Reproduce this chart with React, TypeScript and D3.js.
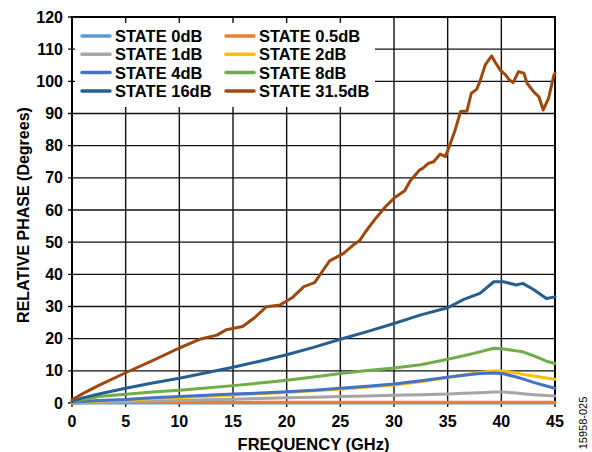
import * as React from 'react';
import * as d3 from 'd3';

// common frequency grid for the smooth states (GHz)
const FREQ = [0, 1, 2.5, 5, 7.5, 10, 12.5, 15, 17.5, 20, 22.5, 25, 27.5, 30, 32.5, 35, 36.5, 38, 39.3, 40.2, 41.4, 42, 43, 44.2, 45];

const STATE_0 = FREQ.map(() => 0);
const STATE_05 = [0, 0.1, 0.15, 0.2, 0.2, 0.2, 0.2, 0.25, 0.25, 0.25, 0.25, 0.25, 0.25, 0.25, 0.25, 0.25, 0.25, 0.25, 0.25, 0.25, 0.25, 0.25, 0.25, 0.2, 0.2];
const STATE_1 = [0, 0.1, 0.2, 0.4, 0.6, 0.8, 1.0, 1.2, 1.4, 1.6, 1.8, 2.0, 2.2, 2.4, 2.6, 2.8, 3.0, 3.2, 3.4, 3.4, 3.1, 2.9, 2.6, 2.3, 2.2];
const STATE_2 = [0.1, 0.3, 0.6, 0.9, 1.3, 1.7, 2.1, 2.5, 2.9, 3.3, 3.8, 4.3, 5.0, 5.6, 6.6, 7.9, 8.7, 9.5, 10.0, 9.9, 9.3, 8.9, 8.4, 7.8, 7.4];
const STATE_4 = [0.2, 0.5, 0.8, 1.1, 1.6, 2.0, 2.4, 2.8, 3.1, 3.5, 4.0, 4.6, 5.2, 5.9, 6.9, 8.0, 8.6, 9.2, 9.3, 9.1, 8.1, 7.5, 6.4, 5.3, 4.6];
const STATE_8 = [0.4, 1.0, 2.0, 2.7, 3.4, 4.0, 4.7, 5.4, 6.2, 7.1, 8.1, 9.2, 10.1, 10.9, 11.9, 13.6, 14.7, 15.9, 17.0, 16.8, 16.2, 15.9, 14.7, 13.0, 12.3];
const STATE_16 = [0.5, 1.6, 2.8, 4.6, 6.2, 7.7, 9.4, 11.1, 13.0, 15.0, 17.3, 19.8, 22.2, 24.7, 27.4, 29.6, 32.2, 34.1, 37.7, 37.7, 36.7, 37.2, 35.3, 32.5, 33.0];

// the 31.5dB state is traced on its own, finer grid
const FREQ_315 = [0, 1, 2.5, 5, 7.5, 10, 12, 13.5, 14.4, 15.9, 17, 18.1, 19.4, 20.5, 21.6, 22.6, 23.3, 24, 25.3, 26.2, 26.8, 27.3, 28.2, 29.2, 30.1, 31, 31.5, 32.4, 32.7, 33.2, 33.7, 34.3, 34.8, 35.2, 35.7, 36.2, 36.8, 37.2, 37.7, 38, 38.5, 39.1, 39.4, 39.9, 40.4, 40.7, 41.1, 41.6, 42.1, 42.4, 43, 43.5, 43.9, 44.4, 44.9, 45];
const STATE_315 = [1.0, 2.9, 5.5, 9.4, 13.2, 17.1, 19.9, 21.1, 22.8, 23.8, 26.5, 29.9, 30.5, 32.7, 36.2, 37.4, 40.8, 44.2, 46.5, 49.1, 50.5, 53, 57, 61, 64, 66, 69, 72.5, 73, 74.5, 75, 77.4, 76.6, 80.2, 84.9, 90.6, 90.8, 96.3, 97.5, 99.9, 105.1, 107.9, 106.1, 103.5, 102.0, 100.6, 99.6, 103.0, 102.5, 99.4, 96.8, 95.2, 91.1, 94.7, 102, 102.5];

const X_TICKS = [0, 5, 10, 15, 20, 25, 30, 35, 40, 45];
const Y_TICKS = [0, 10, 20, 30, 40, 50, 60, 70, 80, 90, 100, 110, 120];

const SERIES = [
  {name: 'STATE 0dB', color: '#5B9BD5', x: FREQ, y: STATE_0},
  {name: 'STATE 0.5dB', color: '#ED7D31', x: FREQ, y: STATE_05},
  {name: 'STATE 1dB', color: '#A5A5A5', x: FREQ, y: STATE_1},
  {name: 'STATE 2dB', color: '#FFC000', x: FREQ, y: STATE_2},
  {name: 'STATE 4dB', color: '#4472C4', x: FREQ, y: STATE_4},
  {name: 'STATE 8dB', color: '#70AD47', x: FREQ, y: STATE_8},
  {name: 'STATE 16dB', color: '#255E91', x: FREQ, y: STATE_16},
  {name: 'STATE 31.5dB', color: '#9E480E', x: FREQ_315, y: STATE_315},
];

const W = 592;
const H = 452;
const plot = {left: 72, right: 555, top: 17, bottom: 403};
const font = 'Arial, "Liberation Sans", sans-serif';

export default function App() {
  const x = d3.scaleLinear().domain([0, 45]).range([plot.left, plot.right]);
  const y = d3.scaleLinear().domain([0, 120]).range([plot.bottom, plot.top]);

  const line = d3.line<[number, number]>()
    .x((d) => x(d[0]))
    .y((d) => y(d[1]));

  return (
    <svg width={W} height={H} style={{position: 'absolute', left: 0, top: 0}} fontFamily={font}>
      <rect width={W} height={H} fill='white' />

      {/* grid */}
      {X_TICKS.map((t) => (
        <line key={'gx' + t} x1={x(t)} x2={x(t)} y1={plot.top} y2={plot.bottom + 4} stroke='#111' strokeWidth={1.4} />
      ))}
      {Y_TICKS.map((t) => (
        <line key={'gy' + t} x1={plot.left - 4} x2={plot.right} y1={y(t)} y2={y(t)} stroke='#111' strokeWidth={1.4} />
      ))}
      <rect x={plot.left} y={plot.top} width={plot.right - plot.left} height={plot.bottom - plot.top}
        fill='none' stroke='#000' strokeWidth={2} />

      {/* legend box hides the grid behind it */}
      <rect x={75} y={23} width={300} height={84} fill='white' />

      {/* series */}
      {SERIES.map((s) => (
        <path key={s.name} d={line(s.x.map((f, i) => [f, s.y[i]]) as [number, number][]) || ''}
          fill='none' stroke={s.color} strokeWidth={3} strokeLinejoin='round' strokeLinecap='round' />
      ))}

      {/* legend */}
      {SERIES.map((s, i) => {
        const col = i % 2;
        const row = Math.floor(i / 2);
        const lx = col === 0 ? 82 : 226;
        const ly = 36 + row * 18.3;
        return (
          <g key={'lg' + s.name}>
            <line x1={lx} x2={lx + 28} y1={ly} y2={ly} stroke={s.color} strokeWidth={3.5} strokeLinecap='round' />
            <text x={lx + 33} y={ly + 6} fontSize={16.5} fontWeight='bold'>{s.name}</text>
          </g>
        );
      })}

      {/* tick labels */}
      {X_TICKS.map((t) => (
        <text key={'tx' + t} x={x(t)} y={427} textAnchor='middle' fontSize={16} fontWeight='bold'>{t}</text>
      ))}
      {Y_TICKS.map((t) => (
        <text key={'ty' + t} x={63} y={y(t) + 5.5} textAnchor='end' fontSize={16} fontWeight='bold'>{t}</text>
      ))}

      {/* axis titles */}
      <text x={(plot.left + plot.right) / 2} y={450} textAnchor='middle' fontSize={16.5} fontWeight='bold'>FREQUENCY (GHz)</text>
      <text transform={`translate(29,${(plot.top + plot.bottom) / 2 + 5}) rotate(-90)`} textAnchor='middle' fontSize={16} fontWeight='bold'>
        RELATIVE PHASE (Degrees)
      </text>
      <text transform='translate(587,423) rotate(-90)' textAnchor='middle' fontSize={11}>15958-025</text>
    </svg>
  );
}
